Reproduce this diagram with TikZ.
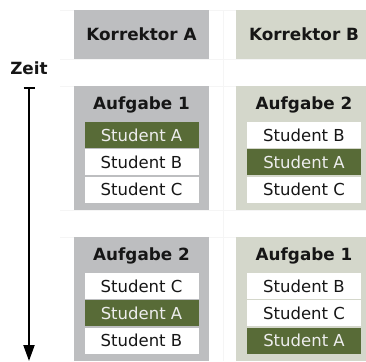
\documentclass[tikz,border=0pt]{standalone}
\usepackage{fontspec}
\setmainfont{DejaVu Sans}
\usetikzlibrary{positioning, arrows.meta}
\definecolor{grauA}{HTML}{BDBEC0}
\definecolor{grauB}{HTML}{D4D7CB}
\definecolor{gruen}{HTML}{586B37}
\definecolor{linie}{HTML}{F5F5F5}
\definecolor{schrift}{HTML}{161616}

\begin{document}
\begin{tikzpicture}[x=1pt,y=-1pt,node distance=1pt,
  feld/.style={rectangle, inner sep=0pt, anchor=north west},
  kopf/.style={text=schrift, font=\bfseries\fontsize{16.8}{19}\selectfont},
  stud/.style={rectangle, fill=white, inner sep=0pt, minimum width=114pt,
    minimum height=26pt, text=schrift, font=\fontsize{16.5}{19}\selectfont},
  markiert/.style={stud, fill=gruen, text=white!93!black}]
  \useasboundingbox (0,0) rectangle (366,361);

  % faint table lines
  \foreach \y in {10,59,86,210,237}
    \draw[linie] (60,\y) -- (366,\y);
  \draw[linie] (223,10) -- (223,361);

  % columns
  \node[feld, fill=grauA, minimum width=135pt, minimum height=49pt] (kA) at (74,10) {};
  \node[feld, fill=grauB, minimum width=130pt, minimum height=49pt] (kB) at (236,10) {};
  \node[kopf] (tA) at (141.5,34.5) {Korrektor A};
  \node[kopf] (tB) at (304,34.5) {Korrektor B};

  \node[feld, fill=grauA, minimum width=135pt, minimum height=124pt] (a1) at (74,86) {};
  \node[feld, fill=grauB, minimum width=130pt, minimum height=124pt] (b1) at (236,86) {};
  \node[feld, fill=grauA, minimum width=135pt, minimum height=124pt] (a2) at (74,237) {};
  \node[feld, fill=grauB, minimum width=130pt, minimum height=124pt] (b2) at (236,237) {};

  % first round
  \node[kopf] (a1k) at (141.5,105) {Aufgabe 1};
  \node[markiert] (a1s1) at (141.5,135) {Student A};
  \node[stud] (a1s2) [below=of a1s1] {Student B};
  \node[stud] (a1s3) [below=of a1s2] {Student C};

  \node[kopf] (b1k) at (304,105) {Aufgabe 2};
  \node[stud] (b1s1) at (304,135) {Student B};
  \node[markiert] (b1s2) [below=of b1s1] {Student A};
  \node[stud] (b1s3) [below=of b1s2] {Student C};

  % second round
  \node[kopf] (a2k) at (141.5,256) {Aufgabe 2};
  \node[stud] (a2s1) at (141.5,286) {Student C};
  \node[markiert] (a2s2) [below=of a2s1] {Student A};
  \node[stud] (a2s3) [below=of a2s2] {Student B};

  \node[kopf] (b2k) at (304,256) {Aufgabe 1};
  \node[stud] (b2s1) at (304,286) {Student B};
  \node[stud] (b2s2) [below=of b2s1] {Student C};
  \node[markiert] (b2s3) [below=of b2s2] {Student A};

  % time axis
  \node[kopf] (zeit) at (29,68) {Zeit};
  \coordinate (zeitoben) at (29,87);
  \coordinate (zeitunten) at (29,361);
  \draw[{Bar[width=11pt]}-{Triangle[width=11pt,length=16pt]}, line width=2pt]
    (zeitoben) -- (zeitunten);
\end{tikzpicture}
\end{document}
